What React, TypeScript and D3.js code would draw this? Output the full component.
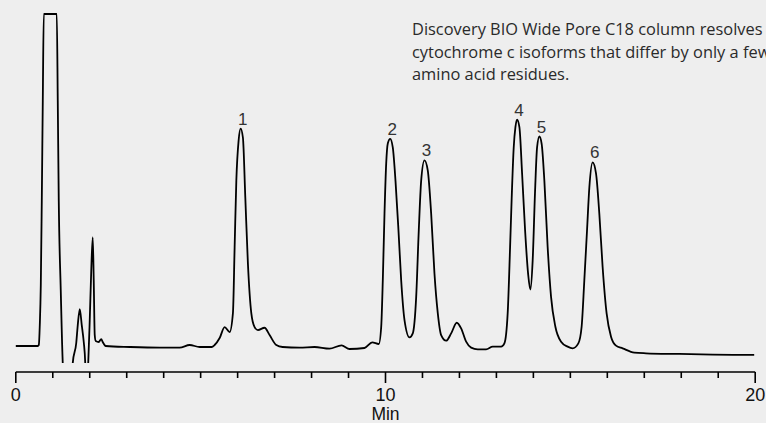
import React from "react";
import * as d3 from "d3";

// Retention time (min) and detector response (relative units)
const times = [
  0.0, 0.378, 0.595, 0.622, 0.649, 0.676, 0.703, 0.73, 0.757, 1.108, 1.135, 1.162, 1.216, 1.27, 1.297, 1.514,
  1.541, 1.635, 1.676, 1.73, 1.784, 1.838, 1.878, 1.892, 1.932, 1.959, 2.0, 2.041, 2.081, 2.108, 2.135, 2.162,
  2.243, 2.311, 2.351, 2.432,
  3.081, 3.892, 4.432, 4.703, 4.973, 5.297, 5.378, 5.514, 5.649, 5.784, 5.873, 5.919, 5.965, 6.027, 6.081, 6.143,
  6.208, 6.278, 6.37, 6.459, 6.549, 6.73, 6.865, 7.046, 7.216, 7.676, 8.081, 8.486, 8.811, 9.027, 9.432, 9.641,
  9.819, 9.884, 9.927, 9.973, 10.019, 10.062, 10.127, 10.197, 10.27, 10.351, 10.424, 10.514, 10.649, 10.738,
  10.83, 10.9, 10.965, 11.054, 11.143, 11.235, 11.324, 11.414, 11.505, 11.641, 11.776, 11.927, 12.046, 12.181,
  12.316, 12.495,
  12.722, 12.9, 13.127, 13.216, 13.305, 13.37, 13.414, 13.468, 13.514, 13.559, 13.622, 13.695, 13.776, 13.857,
  13.919, 13.981, 14.046, 14.1, 14.162, 14.224, 14.297, 14.386, 14.478, 14.595, 14.749, 14.927, 15.062, 15.216,
  15.305, 15.378, 15.451, 15.514, 15.603, 15.695, 15.784, 15.873, 15.981, 16.1, 16.235, 16.414, 16.73, 17.046,
  17.946, 18.846, 19.973,
];
const response = [
  0, 0, 0, 0.3, 6.3, 18.3, 43.8, 73.9, 100, 100, 73.9, 43.8, 16.8, -5.1, -10.2, -10.2,
  -5.1, 0.9, 6.3, 11.1, 6.3, 1.2, -5.1, -10.2, -10.2, -5.1, 7.8, 22.8, 32.7, 19.8, 3.3, 1.5,
  1.2, 2.1, 1.2, 0,
  -0.3, -0.5, -0.5, 0.3, -0.3, -0.3, 0.3, 2.4, 5.7, 4.2, 9.9, 29.7, 49.8, 61.9, 65.5, 62.8,
  44.7, 24.9, 9.9, 5.7, 4.8, 5.5, 3.3, 0.3, -0.3, -0.5, -0.3, -0.8, 0.2, -0.9, -0.6, 1.1,
  0.6, 5.8, 19.8, 39.9, 55.0, 61.0, 62.4, 59.8, 49.8, 34.8, 19.8, 7.8, 2.6, 3.8,
  14.8, 34.8, 49.8, 55.9, 52.9, 39.9, 21.9, 9.9, 3.3, 1.6, 3.8, 7.0, 5.3, 1.3,
  -0.5, -1.0,
  -1.0, -0.2, -0.2, 0.8, 9.9, 29.8, 44.8, 59.8, 65.9, 68.2, 65.9, 51.9, 34.8, 21.8,
  17.0, 25.8, 46.8, 59.8, 63.1, 60.9, 49.8, 29.8, 14.8, 5.8, 1.3, -0.2, -0.7, 0.8,
  5.8, 19.8, 34.8, 47.8, 55.3, 51.9, 39.8, 23.8, 9.8, 2.8, 0.1, -0.7, -2.0, -2.2,
  -2.4, -2.6, -2.7,
];

const peakLabels = ["1", "2", "3", "4", "5", "6"];
const peakTimes = [6.081, 10.127, 11.054, 13.559, 14.162, 15.603];
const peakHeights = [65.5, 62.4, 55.9, 68.2, 63.1, 55.3];

const xTicks = d3.range(0, 21);
const xLabelTicks = [0, 10, 20];
const xTitle = "Min";
const noteLines = [
  "Discovery BIO Wide Pore C18 column resolves",
  "cytochrome c isoforms that differ by only a few",
  "amino acid residues.",
];
const responseFloor = -5.1;

const W = 766;
const H = 423;

export default function App() {
  const x = d3.scaleLinear().domain([0, 20]).range([15.8, 755.2]);
  const y = d3.scaleLinear().domain([0, 100]).range([346, 14]);
  const pts = times.map((t, i) => [t, response[i]] as [number, number]);
  const line = d3
    .line<[number, number]>()
    .x((d) => x(d[0]))
    .y((d) => y(d[1]))
    .curve(d3.curveMonotoneX);
  const axisY = 372;
  const font = "'Liberation Sans', Arial, sans-serif";

  return (
    <>
      <style>{`body{margin:0;}`}</style>
      <svg width={W} height={H} style={{ display: "block", background: "#eeeeee" }}>
        <defs>
          <clipPath id="floorClip">
            <rect x={0} y={0} width={W} height={y(responseFloor)} />
          </clipPath>
        </defs>
        <rect x={0} y={0} width={W} height={H} fill="#eeeeee" />
        <path
          d={line(pts) || ""}
          fill="none"
          stroke="#000"
          strokeWidth={1.8}
          strokeLinejoin="round"
          clipPath="url(#floorClip)"
        />
        {peakLabels.map((lab, i) => (
          <text
            key={lab}
            x={x(peakTimes[i]) + 2}
            y={y(peakHeights[i]) - 4}
            textAnchor="middle"
            fontFamily={font}
            fontSize={17}
            fill="#333"
          >
            {lab}
          </text>
        ))}
        <g stroke="#000" strokeWidth={1.6} fill="none">
          <line x1={x(0)} x2={x(20)} y1={axisY} y2={axisY} />
          {xTicks.map((t) => (
            <line
              key={t}
              x1={x(t)}
              x2={x(t)}
              y1={axisY}
              y2={axisY + (xLabelTicks.includes(t) ? 11 : 6)}
            />
          ))}
        </g>
        {xLabelTicks.map((t) => (
          <text
            key={t}
            x={x(t)}
            y={401}
            textAnchor="middle"
            fontFamily={font}
            fontSize={18}
            fill="#111"
          >
            {t}
          </text>
        ))}
        <text x={x(10)} y={420} textAnchor="middle" fontFamily={font} fontSize={17.5} fill="#111">
          {xTitle}
        </text>
        {noteLines.map((s, i) => (
          <text
            key={i}
            x={412}
            y={35 + i * 22.5}
            fontFamily="'Open Sans', sans-serif"
            fontSize={16.4}
            fill="#2a2a2a"
          >
            {s}
          </text>
        ))}
      </svg>
    </>
  );
}
